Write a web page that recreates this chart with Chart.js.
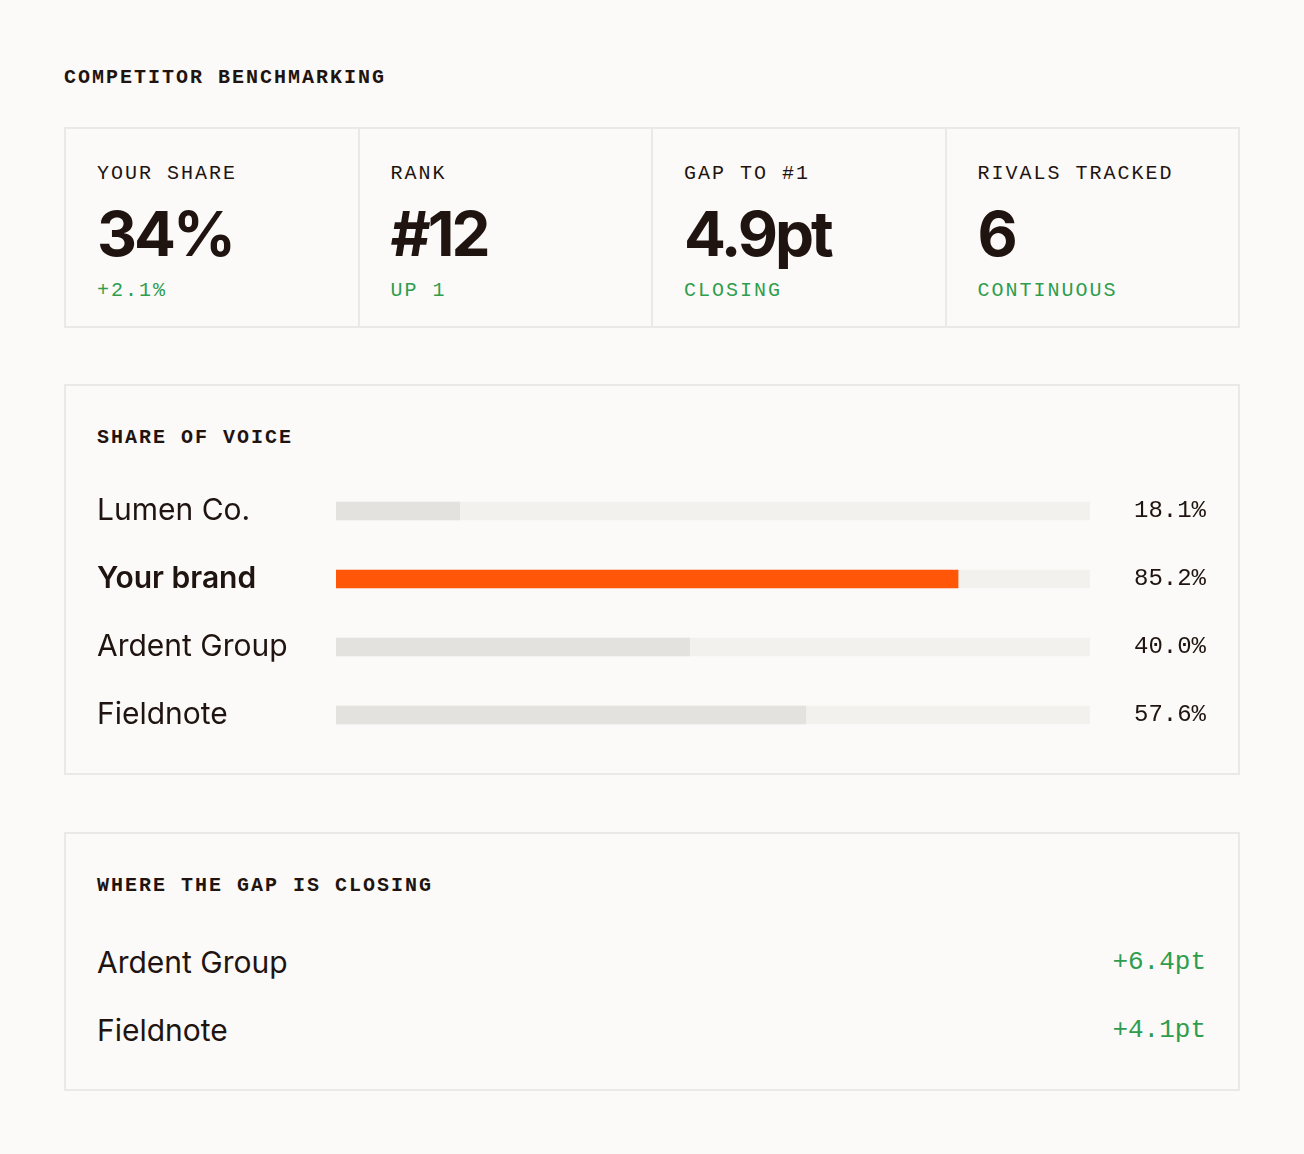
<!DOCTYPE html>
<html>
<head>
<meta charset="utf-8">
<title>Competitor benchmarking</title>
<script src="https://cdn.jsdelivr.net/npm/chart.js@4.4.1/dist/chart.umd.min.js"></script>
<style>
  body {
    margin: 0;
    background: #fbfaf8;
    color: #1f1410;
    font-family: Inter, "Noto Sans", sans-serif;
  }
  .page { margin-left: 64px; width: 1176px; padding-top: 68px; }
  .mono { font-family: "Liberation Mono", "DejaVu Sans Mono", monospace; }
  .eyebrow {
    font-family: "Liberation Mono", monospace;
    font-size: 20px; line-height: 20px; letter-spacing: 2px;
  }
  .title { font-weight: 700; }
  .kpis {
    margin-top: 39px;
    display: flex;
    border: 2px solid #ebe9e5;
    box-sizing: border-box;
    height: 201px;
  }
  .kpi {
    flex: 1;
    padding: 35px 0 0 31px;
    border-left: 2px solid #ebe9e5;
  }
  .kpi:first-child { border-left: none; }
  .kpi .big {
    font-size: 62px; line-height: 64px; font-weight: 700;
    letter-spacing: -3px; margin-top: 18px;
  }
  .kpi .note { color: #2f9d4e; margin-top: 15px; }
  .panel {
    border: 2px solid #ebe9e5;
    padding: 42px 32px 6px 31px;
  }
  #sov { margin-top: 56px; }
  #gap { margin-top: 57px; padding-bottom: 25px; }
  .chart-wrap { width: 1109px; height: 308px; margin-top: 11px; position: relative; }
  .rows { margin-top: 32px; }
  .row {
    display: flex; justify-content: space-between; align-items: center;
    height: 68px; font-size: 30px;
  }
  .row .delta { font-size: 26px; color: #2f9d4e; }
</style>
</head>
<body>
<div class="page">
  <div class="eyebrow title">COMPETITOR BENCHMARKING</div>
  <div class="kpis" id="kpis"></div>

  <div class="panel" id="sov">
    <div class="eyebrow title">SHARE OF VOICE</div>
    <div class="chart-wrap"><canvas id="sovChart"></canvas></div>
  </div>

  <div class="panel" id="gap">
    <div class="eyebrow title">WHERE THE GAP IS CLOSING</div>
    <div class="rows" id="gapRows"></div>
  </div>
</div>

<script>
// KPI tiles
const kpiLabels = ['YOUR SHARE', 'RANK', 'GAP TO #1', 'RIVALS TRACKED'];
const kpiValues = ['34%', '#12', '4.9pt', '6'];
const kpiNotes = ['+2.1%', 'UP 1', 'CLOSING', 'CONTINUOUS'];

// Share of voice
const brands = ['Lumen Co.', 'Your brand', 'Ardent Group', 'Fieldnote'];
const barValues = [16.4, 82.5, 46.9, 62.3];
const valueLabels = ['18.1%', '85.2%', '40.0%', '57.6%'];
const highlightBrand = 'Your brand';

// Gap closing
const gapNames = ['Ardent Group', 'Fieldnote'];
const gapDeltas = ['+6.4pt', '+4.1pt'];

const kpis = document.getElementById('kpis');
kpiLabels.forEach((label, i) => {
  const cell = document.createElement('div');
  cell.className = 'kpi';
  cell.innerHTML =
    `<div class="eyebrow">${label}</div>` +
    `<div class="big">${kpiValues[i]}</div>` +
    `<div class="eyebrow note">${kpiNotes[i]}</div>`;
  kpis.appendChild(cell);
});

const gapRows = document.getElementById('gapRows');
gapNames.forEach((name, i) => {
  const row = document.createElement('div');
  row.className = 'row';
  row.innerHTML = `<span>${name}</span><span class="mono delta">${gapDeltas[i]}</span>`;
  gapRows.appendChild(row);
});

const textColor = '#1f1410';
const ctx = document.getElementById('sovChart').getContext('2d');
new Chart(ctx, {
  type: 'bar',
  data: {
    labels: brands,
    datasets: [
      {
        label: 'Share',
        data: barValues,
        backgroundColor: brands.map(b => b === highlightBrand ? '#ff5608' : '#e3e2df'),
        order: 0
      },
      {
        label: 'Track',
        data: brands.map(() => 100),
        backgroundColor: '#f2f1ee',
        order: 1
      }
    ]
  },
  options: {
    indexAxis: 'y',
    responsive: true,
    maintainAspectRatio: false,
    animation: false,
    layout: { padding: 0 },
    datasets: { bar: { grouped: false, barThickness: 18, borderWidth: 0, borderSkipped: false } },
    plugins: { legend: { display: false }, tooltip: { enabled: false } },
    scales: {
      x: { display: false, min: 0, max: 100 },
      y: {
        position: 'left',
        grid: { display: false },
        border: { display: false },
        afterFit: scale => { scale.width = 239; },
        ticks: {
          crossAlign: 'far',
          padding: 0,
          color: textColor,
          font: c => ({
            family: 'Inter',
            size: 30,
            weight: c.tick && c.tick.label === highlightBrand ? '600' : '400'
          })
        }
      },
      y2: {
        axis: 'y',
        type: 'category',
        labels: valueLabels,
        position: 'right',
        grid: { display: false },
        border: { display: false },
        afterFit: scale => { scale.width = 116; },
        ticks: {
          crossAlign: 'far',
          padding: 0,
          color: textColor,
          font: { family: 'Liberation Mono', size: 24 }
        }
      }
    }
  }
});
</script>
</body>
</html>
